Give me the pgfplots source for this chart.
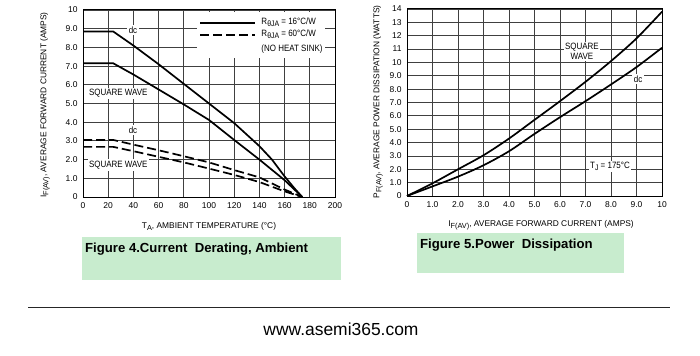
\documentclass[border=0pt]{standalone}
\usepackage{pgfplots}
\pgfplotsset{compat=1.18}
\usepackage{fontspec}
\setmainfont{Liberation Sans}
\newfontfamily\narrow[FakeStretch=0.87]{Liberation Sans}
\definecolor{capgreen}{RGB}{200,236,206}
\newcommand{\ticksize}{\fontsize{8.5}{10}\selectfont}
\newcommand{\labsize}{\fontsize{8.4}{10}\selectfont}
\newcommand{\annsize}{\narrow\fontsize{9.2}{10.5}\selectfont}
\newcommand{\lsub}[1]{\raisebox{-0.45ex}{\fontsize{7.4}{8}\selectfont #1}}
\newcommand{\asub}[1]{\raisebox{-0.45ex}{\fontsize{8}{9}\selectfont #1}}
\begin{document}
\begin{tikzpicture}[x=1bp,y=1bp]
\path[use as bounding box] (0,0) rectangle (700,355);
\pgfplotsset{
  every axis/.style={
    scale only axis, anchor=south west,
    axis line style={line width=1bp},
    grid=major,
    major grid style={line width=0.8bp, black!75},
    major tick length=0pt,
    tick label style={font=\ticksize},
    /pgf/number format/assume math mode=true,
    xticklabel style={yshift=-2bp},
    yticklabel style={xshift=-2bp},
    clip=false,
  },
}
% ---------- Figure 4 ----------
\begin{axis}[at={(83bp,158bp)}, width=252bp, height=187bp,
  xmin=0, xmax=200, ymin=0, ymax=10,
  xtick={0,20,...,200},
  ytick={0,1,...,10},
  yticklabels={0,1.0,2.0,3.0,4.0,5.0,6.0,7.0,8.0,9.0,10},
]
% legend background
\fill[white] (axis cs:90.5,7.45) rectangle (axis cs:192,9.88);
\addplot[black, line width=1.7bp] coordinates {(0,8.85) (24,8.85) (40,8.1) (60,7.1) (80,6.05) (100,5.0) (120,3.95) (140,2.72) (150,2.0) (160,1.1) (168,0.45) (174,0)};
\addplot[black, line width=1.7bp] coordinates {(0,7.15) (24,7.15) (40,6.55) (60,5.75) (80,4.95) (100,4.12) (120,3.05) (140,2.0) (160,0.9) (174,0)};
\addplot[black, line width=1.7bp, dash pattern=on 9bp off 4bp] coordinates {(0,3.05) (24,3.05) (40,2.8) (60,2.5) (80,2.18) (100,1.85) (120,1.44) (140,1.05) (160,0.4) (174,0)};
\addplot[black, line width=1.7bp, dash pattern=on 9bp off 4bp] coordinates {(0,2.68) (24,2.68) (40,2.45) (60,2.15) (80,1.85) (100,1.52) (120,1.18) (140,0.8) (160,0.3) (174,0)};
% legend
\draw[black, line width=1.7bp] (axis cs:92.9,9.32) -- (axis cs:136.5,9.32);
\draw[black, line width=1.7bp, dash pattern=on 9bp off 4bp] (axis cs:92.9,8.66) -- (axis cs:136.5,8.66);
\node[anchor=west, font=\annsize, inner sep=0pt] at (axis cs:141.5,9.35) {R\asub{θJA} = 16°C/W};
\node[anchor=west, font=\annsize, inner sep=0pt] at (axis cs:141.5,8.7) {R\asub{θJA} = 60°C/W};
\node[anchor=west, font=\annsize, inner sep=0pt] at (axis cs:141.5,7.9) {(NO HEAT SINK)};
% labels
\node[fill=white, font=\annsize, inner sep=1.5bp] at (axis cs:39.7,8.93) {dc};
\node[fill=white, font=\annsize, inner sep=1.5bp] at (axis cs:28,5.55) {SQUARE WAVE};
\node[fill=white, font=\annsize, inner sep=1.5bp] at (axis cs:39.7,3.58) {dc};
\node[fill=white, font=\annsize, inner sep=1.5bp] at (axis cs:28,1.71) {SQUARE WAVE};
\end{axis}
% ---------- Figure 5 ----------
\begin{axis}[at={(407bp,159bp)}, width=255bp, height=187bp,
  xmin=0, xmax=10, ymin=0, ymax=14,
  xtick={0,1,...,10},
  xticklabels={0,1.0,2.0,3.0,4.0,5.0,6.0,7.0,8.0,9.0,10},
  ytick={0,1,...,14},
  yticklabels={0,1.0,2.0,3.0,4.0,5.0,6.0,7.0,8.0,9.0,10,11,12,13,14},
]
\addplot[black, line width=1.7bp, smooth] coordinates {(0,0) (1,0.95) (2,2.0) (3,3.05) (4,4.3) (5,5.7) (6,7.1) (7,8.55) (8,10.1) (9,11.8) (10,13.8)};
\addplot[black, line width=1.7bp, smooth] coordinates {(0,0) (1,0.72) (2,1.45) (3,2.3) (4,3.35) (5,4.65) (6,5.9) (7,7.1) (8,8.35) (9,9.65) (10,11.1)};
\node[fill=white, font=\annsize, inner sep=1.5bp, align=center] at (axis cs:6.86,10.85) {SQUARE\\[-1pt]WAVE};
\node[fill=white, font=\annsize, inner sep=1.5bp] at (axis cs:9.06,8.76) {dc};
\node[fill=white, font=\annsize, inner sep=1.5bp] at (axis cs:7.96,2.2) {T\asub{J} = 175°C};
\end{axis}
% axis labels
\node[rotate=90, font=\labsize] at (45bp,250bp) {I\lsub{F(AV)}, AVERAGE FORWARD CURRENT (AMPS)};
\node[font=\labsize] at (209bp,129bp) {T\lsub{A}, AMBIENT TEMPERATURE (°C)};
\node[rotate=90, font=\labsize] at (378bp,253bp) {P\lsub{F(AV)}, AVERAGE POWER DISSIPATION (WATTS)};
\node[font=\labsize] at (541bp,130bp) {I\lsub{F(AV)}, AVERAGE FORWARD CURRENT (AMPS)};
% captions
\fill[capgreen] (82,75) rectangle (341,118);
\node[anchor=base west, inner sep=0pt, font=\fontsize{13.2}{15}\selectfont\bfseries] at (85,103) {Figure 4.Current\ \ Derating, Ambient};
\fill[capgreen] (417,82) rectangle (624,122);
\node[anchor=base west, inner sep=0pt, font=\fontsize{13.2}{15}\selectfont\bfseries] at (420,107) {Figure 5.Power\ \ Dissipation};
% footer
\draw[line width=1bp, black!85] (28,48) -- (670,48);
\node[anchor=base, inner sep=0pt, font=\fontsize{17.5}{20}\selectfont] at (341,20) {www.asemi365.com};
\end{tikzpicture}
\end{document}
